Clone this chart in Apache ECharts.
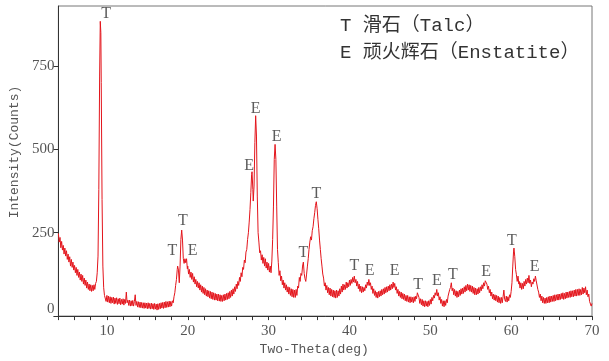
<!DOCTYPE html>
<html>
<head>
<meta charset="utf-8">
<script src="https://cdn.jsdelivr.net/npm/echarts@6/dist/echarts.min.js"></script>
<style>
  html, body { margin: 0; padding: 0; background: #fff; }
  #chart { width: 609px; height: 361px; }
</style>
</head>
<body>
<div id="chart"></div>
<script>
// XRD pattern, [2theta, counts] (noise band included)
var xrdPattern = [
  [4.0, 248], [4.1, 222], [4.2, 236], [4.3, 205], [4.4, 224], [4.5, 198], [4.6, 212], [4.7, 186], [4.8, 204], [4.9, 180],
  [5.0, 196], [5.1, 170], [5.2, 186], [5.3, 162], [5.4, 178], [5.5, 150], [5.6, 170], [5.7, 146], [5.8, 162], [5.9, 138],
  [6.0, 152], [6.1, 130], [6.2, 146], [6.3, 122], [6.4, 140], [6.5, 116], [6.6, 132], [6.7, 108], [6.8, 126], [6.9, 104],
  [7.0, 122], [7.1, 96], [7.2, 114], [7.3, 92], [7.4, 108], [7.5, 84], [7.6, 102], [7.7, 80], [7.8, 96], [7.9, 76],
  [8.0, 94], [8.1, 74], [8.2, 92], [8.3, 76], [8.4, 94], [8.5, 80], [8.6, 98], [8.7, 104], [8.8, 130], [8.9, 180],
  [9.0, 380], [9.1, 720], [9.18, 884], [9.25, 850], [9.3, 700], [9.4, 350], [9.5, 150], [9.6, 85], [9.7, 62], [9.8, 66], [9.9, 44],
  [10.0, 62], [10.1, 42], [10.2, 60], [10.3, 40], [10.4, 58], [10.5, 38], [10.6, 56], [10.7, 40], [10.8, 57], [10.9, 36],
  [11.0, 54], [11.1, 38], [11.2, 55], [11.3, 35], [11.4, 52], [11.5, 37], [11.6, 54], [11.7, 34], [11.8, 50], [11.9, 36],
  [12.0, 52], [12.1, 33], [12.2, 50], [12.3, 38], [12.4, 72], [12.5, 40], [12.6, 48], [12.7, 32], [12.8, 48], [12.9, 30],
  [13.0, 46], [13.1, 31], [13.2, 47], [13.3, 30], [13.4, 44], [13.5, 64], [13.6, 32], [13.7, 44], [13.8, 27], [13.9, 43],
  [14.0, 26], [14.1, 42], [14.2, 25], [14.3, 41], [14.4, 24], [14.5, 40], [14.6, 23], [14.7, 40], [14.8, 24], [14.9, 39],
  [15.0, 22], [15.1, 40], [15.2, 23], [15.3, 38], [15.4, 21], [15.5, 39], [15.6, 22], [15.7, 37], [15.8, 20], [15.9, 38],
  [16.0, 21], [16.1, 36], [16.2, 18], [16.3, 37], [16.4, 20], [16.5, 38], [16.6, 22], [16.7, 40], [16.8, 24], [16.9, 41],
  [17.0, 23], [17.1, 42], [17.2, 25], [17.3, 44], [17.4, 26], [17.5, 43], [17.6, 27], [17.7, 45], [17.8, 28], [17.9, 44],
  [18.0, 30], [18.1, 46], [18.2, 40], [18.3, 58], [18.4, 70], [18.5, 92], [18.6, 110], [18.7, 140], [18.75, 150], [18.85, 138], [18.95, 100],
  [19.05, 150], [19.15, 230], [19.25, 258], [19.35, 228], [19.45, 172], [19.55, 158], [19.65, 172], [19.75, 160], [19.85, 172], [19.95, 142],
  [20.0, 150], [20.1, 126], [20.2, 140], [20.3, 116], [20.4, 132], [20.5, 110], [20.6, 128], [20.7, 102], [20.8, 118], [20.9, 96],
  [21.0, 110], [21.1, 88], [21.2, 104], [21.3, 84], [21.4, 100], [21.5, 78], [21.6, 94], [21.7, 72], [21.8, 90], [21.9, 68],
  [22.0, 86], [22.1, 64], [22.2, 82], [22.3, 60], [22.4, 78], [22.5, 58], [22.6, 76], [22.7, 54], [22.8, 74], [22.9, 52],
  [23.0, 72], [23.1, 50], [23.2, 70], [23.3, 48], [23.4, 68], [23.5, 48], [23.6, 66], [23.7, 46], [23.8, 66], [23.9, 45],
  [24.0, 64], [24.1, 44], [24.2, 62], [24.3, 44], [24.4, 64], [24.5, 46], [24.6, 66], [24.7, 48], [24.8, 68], [24.9, 50],
  [25.0, 70], [25.1, 52], [25.2, 74], [25.3, 56], [25.4, 78], [25.5, 60], [25.6, 82], [25.7, 66], [25.8, 88], [25.9, 74],
  [26.0, 96], [26.1, 82], [26.2, 104], [26.3, 92], [26.4, 116], [26.5, 104], [26.6, 130], [26.7, 118], [26.8, 146], [26.9, 140],
  [27.0, 168], [27.1, 160], [27.2, 192], [27.3, 200], [27.4, 230], [27.5, 250], [27.6, 282], [27.7, 320], [27.8, 370], [27.9, 425], [27.95, 433],
  [28.05, 380], [28.1, 345], [28.2, 390], [28.3, 520], [28.4, 601], [28.5, 540], [28.6, 360], [28.7, 250], [28.8, 222], [28.9, 190],
  [29.0, 196], [29.1, 168], [29.2, 184], [29.3, 158], [29.4, 176], [29.5, 150], [29.6, 172], [29.7, 144], [29.8, 162], [29.9, 138],
  [30.0, 158], [30.1, 132], [30.2, 150], [30.3, 130], [30.4, 165], [30.5, 230], [30.6, 330], [30.7, 470], [30.8, 515], [30.9, 470],
  [31.0, 330], [31.1, 200], [31.2, 160], [31.3, 122], [31.4, 136], [31.5, 106], [31.6, 120], [31.7, 94], [31.8, 108], [31.9, 84],
  [32.0, 100], [32.1, 78], [32.2, 94], [32.3, 72], [32.4, 88], [32.5, 66], [32.6, 86], [32.7, 62], [32.8, 82], [32.9, 58],
  [33.0, 80], [33.1, 56], [33.2, 78], [33.3, 56], [33.4, 80], [33.5, 62], [33.6, 90], [33.7, 84], [33.8, 116], [33.9, 104],
  [34.0, 128], [34.1, 122], [34.2, 150], [34.3, 162], [34.4, 128], [34.5, 112], [34.6, 104], [34.7, 126], [34.8, 150], [34.9, 172],
  [35.0, 200], [35.1, 222], [35.2, 238], [35.3, 228], [35.4, 256], [35.5, 268], [35.6, 292], [35.7, 310], [35.8, 332], [35.9, 343],
  [36.0, 322], [36.1, 290], [36.2, 262], [36.3, 228], [36.4, 200], [36.5, 172], [36.6, 150], [36.7, 126], [36.8, 114], [36.9, 90],
  [37.0, 100], [37.1, 78], [37.2, 92], [37.3, 70], [37.4, 86], [37.5, 64], [37.6, 84], [37.7, 60], [37.8, 80], [37.9, 58],
  [38.0, 78], [38.1, 56], [38.2, 76], [38.3, 54], [38.4, 78], [38.5, 56], [38.6, 76], [38.7, 60], [38.8, 82], [38.9, 66],
  [39.0, 90], [39.1, 72], [39.2, 96], [39.3, 78], [39.4, 94], [39.5, 80], [39.6, 102], [39.7, 84], [39.8, 100], [39.9, 88],
  [40.0, 108], [40.1, 92], [40.2, 110], [40.3, 98], [40.4, 116], [40.5, 102], [40.6, 120], [40.7, 100], [40.8, 110], [40.9, 90],
  [41.0, 104], [41.1, 82], [41.2, 96], [41.3, 74], [41.4, 90], [41.5, 70], [41.6, 88], [41.7, 72], [41.8, 86], [41.9, 76],
  [42.0, 94], [42.1, 84], [42.2, 102], [42.3, 92], [42.4, 110], [42.5, 92], [42.6, 100], [42.7, 80], [42.8, 90], [42.9, 68],
  [43.0, 82], [43.1, 62], [43.2, 76], [43.3, 56], [43.4, 72], [43.5, 54], [43.6, 74], [43.7, 58], [43.8, 76], [43.9, 60],
  [44.0, 80], [44.1, 64], [44.2, 82], [44.3, 66], [44.4, 86], [44.5, 70], [44.6, 88], [44.7, 72], [44.8, 90], [44.9, 76],
  [45.0, 94], [45.1, 78], [45.2, 96], [45.3, 82], [45.4, 102], [45.5, 86], [45.6, 98], [45.7, 78], [45.8, 88], [45.9, 68],
  [46.0, 80], [46.1, 60], [46.2, 74], [46.3, 56], [46.4, 72], [46.5, 52], [46.6, 68], [46.7, 50], [46.8, 66], [46.9, 46],
  [47.0, 62], [47.1, 44], [47.2, 62], [47.3, 42], [47.4, 58], [47.5, 40], [47.6, 58], [47.7, 42], [47.8, 56], [47.9, 40],
  [48.0, 58], [48.1, 44], [48.2, 60], [48.3, 52], [48.4, 70], [48.5, 66], [48.6, 56], [48.7, 38], [48.8, 52], [48.9, 34],
  [49.0, 50], [49.1, 30], [49.2, 46], [49.3, 28], [49.4, 46], [49.5, 30], [49.6, 44], [49.7, 28], [49.8, 46], [49.9, 32],
  [50.0, 50], [50.1, 36], [50.2, 56], [50.3, 46], [50.4, 62], [50.5, 54], [50.6, 70], [50.7, 62], [50.8, 80], [50.9, 60],
  [51.0, 70], [51.1, 48], [51.2, 58], [51.3, 38], [51.4, 50], [51.5, 30], [51.6, 46], [51.7, 28], [51.8, 46], [51.9, 32],
  [52.0, 50], [52.1, 40], [52.2, 60], [52.3, 62], [52.4, 80], [52.5, 86], [52.6, 100], [52.7, 76], [52.8, 84], [52.9, 64],
  [53.0, 80], [53.1, 60], [53.2, 76], [53.3, 56], [53.4, 74], [53.5, 58], [53.6, 78], [53.7, 62], [53.8, 82], [53.9, 66],
  [54.0, 84], [54.1, 68], [54.2, 88], [54.3, 72], [54.4, 92], [54.5, 76], [54.6, 96], [54.7, 78], [54.8, 94], [54.9, 74],
  [55.0, 92], [55.1, 72], [55.2, 90], [55.3, 68], [55.4, 86], [55.5, 64], [55.6, 84], [55.7, 64], [55.8, 82], [55.9, 66],
  [56.0, 86], [56.1, 70], [56.2, 88], [56.3, 76], [56.4, 94], [56.5, 82], [56.6, 100], [56.7, 90], [56.8, 106], [56.9, 108],
  [57.0, 96], [57.1, 80], [57.2, 90], [57.3, 70], [57.4, 80], [57.5, 60], [57.6, 72], [57.7, 52], [57.8, 66], [57.9, 48],
  [58.0, 64], [58.1, 46], [58.2, 62], [58.3, 42], [58.4, 60], [58.5, 40], [58.6, 56], [58.7, 38], [58.8, 56], [58.9, 40],
  [59.0, 58], [59.1, 78], [59.2, 50], [59.3, 44], [59.4, 60], [59.5, 42], [59.6, 58], [59.7, 46], [59.8, 64], [59.9, 56],
  [60.0, 74], [60.1, 100], [60.2, 150], [60.3, 195], [60.35, 204], [60.45, 178], [60.55, 140], [60.65, 124], [60.75, 104], [60.85, 120],
  [60.95, 96], [61.0, 104], [61.1, 84], [61.2, 100], [61.3, 80], [61.4, 98], [61.5, 82], [61.6, 104], [61.7, 90], [61.8, 110], [61.9, 96],
  [62.0, 114], [62.1, 100], [62.2, 122], [62.3, 98], [62.4, 108], [62.5, 88], [62.6, 102], [62.7, 96], [62.8, 112], [62.9, 104],
  [63.0, 120], [63.1, 106], [63.2, 108], [63.3, 80], [63.4, 72], [63.5, 56], [63.6, 66], [63.7, 46], [63.8, 60], [63.9, 40],
  [64.0, 56], [64.1, 38], [64.2, 54], [64.3, 38], [64.4, 56], [64.5, 40], [64.6, 58], [64.7, 40], [64.8, 60], [64.9, 42],
  [65.0, 60], [65.1, 44], [65.2, 62], [65.3, 44], [65.4, 64], [65.5, 46], [65.6, 64], [65.7, 48], [65.8, 66], [65.9, 48],
  [66.0, 66], [66.1, 50], [66.2, 68], [66.3, 52], [66.4, 70], [66.5, 50], [66.6, 68], [66.7, 52], [66.8, 72], [66.9, 54],
  [67.0, 72], [67.1, 56], [67.2, 74], [67.3, 56], [67.4, 76], [67.5, 58], [67.6, 76], [67.7, 58], [67.8, 78], [67.9, 60],
  [68.0, 80], [68.1, 60], [68.2, 80], [68.3, 62], [68.4, 82], [68.5, 62], [68.6, 80], [68.7, 64], [68.8, 86], [68.9, 66],
  [69.0, 84], [69.1, 70], [69.2, 88], [69.3, 64], [69.4, 78], [69.5, 58], [69.6, 66], [69.7, 44], [69.8, 40], [69.9, 30], [70.0, 38]
];

// peak tags: [2theta, counts at tag, phase]
var peakTags = [
  [9.9, 907, 'T'], [18.1, 195, 'T'], [19.4, 286, 'T'], [20.6, 195, 'E'],
  [27.6, 452, 'E'], [28.4, 621, 'E'], [31.0, 539, 'E'], [34.3, 190, 'T'],
  [35.9, 368, 'T'], [40.6, 150, 'T'], [42.5, 137, 'E'], [45.6, 135, 'E'],
  [48.5, 95, 'T'], [50.8, 105, 'E'], [52.8, 123, 'T'], [56.9, 133, 'E'],
  [60.1, 226, 'T'], [62.9, 148, 'E']
];

var legendLines = ['T 滑石（Talc）', 'E 顽火辉石（Enstatite）'];

var xTickValues = [4, 6, 8, 10, 12, 14, 16, 18, 20, 22, 24, 26, 28, 30, 32, 34, 36, 38,
  40, 42, 44, 46, 48, 50, 52, 54, 56, 58, 60, 62, 64, 66, 68, 70];
var xLabelValues = [10, 20, 30, 40, 50, 60, 70];
var yTickValues = [0, 250, 500, 750];

var monoFont = '"Liberation Mono", "Noto Sans CJK SC", monospace';
var serifFont = '"Liberation Serif", serif';

var chart = echarts.init(document.getElementById('chart'));
var option = {
  animation: false,
  title: {
    text: legendLines.join('\n'),
    left: 335,
    top: 7,
    textStyle: {
      fontFamily: monoFont,
      fontSize: 19,
      fontWeight: 'normal',
      color: '#333',
      lineHeight: 27
    }
  },
  grid: {
    left: 55,
    right: 17,
    top: 6,
    bottom: 42,
    show: true,
    borderColor: '#777',
    borderWidth: 1
  },
  xAxis: {
    type: 'value',
    min: 4,
    max: 70,
    name: 'Two-Theta(deg)',
    nameLocation: 'middle',
    nameGap: 26,
    nameTextStyle: {
      fontFamily: monoFont,
      fontSize: 13,
      color: '#555',
      padding: [0, 22, 0, 0]
    },
    splitLine: { show: false },
    axisLine: { lineStyle: { color: '#333', width: 1 } },
    axisTick: {
      customValues: xTickValues,
      length: 4,
      lineStyle: { color: '#333' }
    },
    axisLabel: {
      customValues: xLabelValues,
      margin: 7,
      fontFamily: serifFont,
      fontSize: 15,
      color: '#555'
    }
  },
  yAxis: {
    type: 'value',
    min: 0,
    max: 930,
    name: 'Intensity(Counts)',
    nameLocation: 'middle',
    nameGap: 27,
    nameTextStyle: {
      fontFamily: monoFont,
      fontSize: 13,
      color: '#555',
      padding: [0, 0, 0, 18]
    },
    splitLine: { show: false },
    axisLine: { show: true, lineStyle: { color: '#333', width: 1 } },
    axisTick: {
      show: true,
      customValues: yTickValues,
      length: 5,
      lineStyle: { color: '#333' }
    },
    axisLabel: {
      customValues: yTickValues,
      margin: 4,
      fontFamily: serifFont,
      fontSize: 15,
      color: '#555',
      formatter: function (v) { return v === 0 ? '{z|0}' : String(v); },
      rich: { z: { fontFamily: serifFont, fontSize: 15, color: '#555', padding: [0, 0, 14, 0] } }
    }
  },
  series: [
    {
      type: 'line',
      data: xrdPattern,
      showSymbol: false,
      symbol: 'none',
      sampling: 'none',
      lineStyle: { color: '#e3141b', width: 1 },
      z: 2
    },
    {
      type: 'scatter',
      data: peakTags,
      symbolSize: 0,
      silent: true,
      label: {
        show: true,
        position: 'inside',
        formatter: function (p) { return p.data[2]; },
        fontFamily: serifFont,
        fontSize: 16,
        color: '#333'
      },
      z: 3
    }
  ]
};
chart.setOption(option);
window.onresize = function () {
  chart.resize();
};
</script>
</body>
</html>
